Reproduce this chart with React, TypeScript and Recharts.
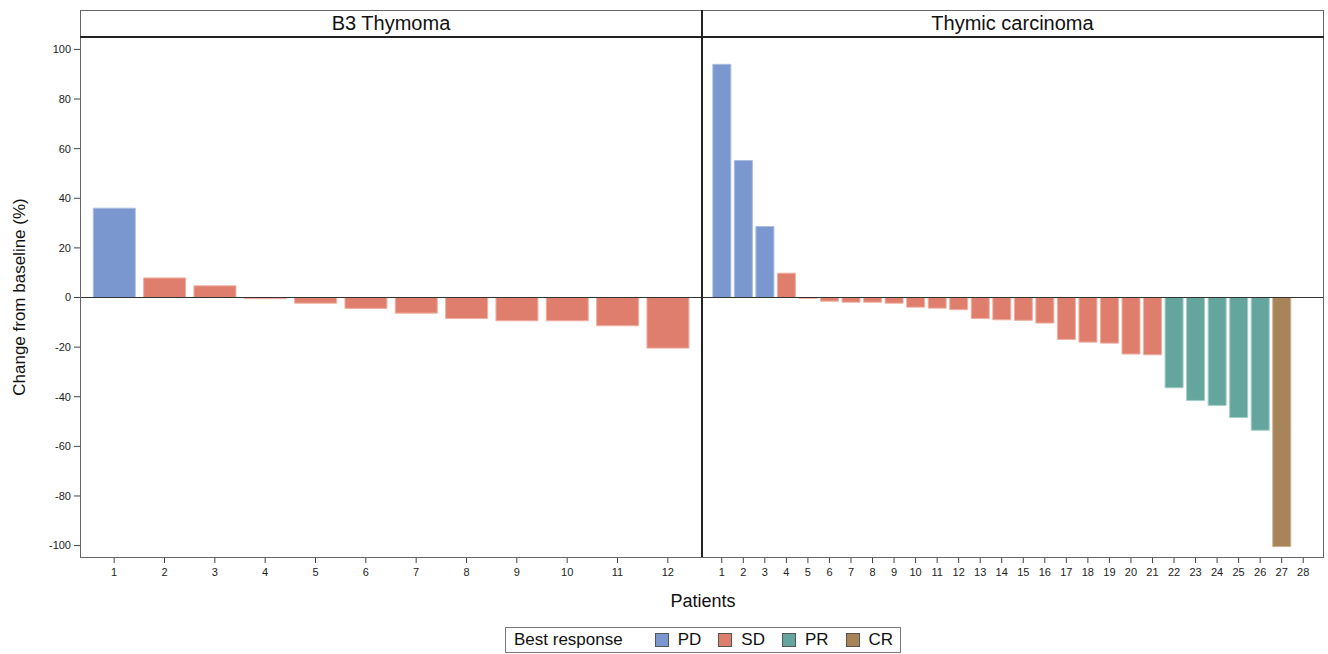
import React from 'react';
import {Bar, BarChart, Cell, ReferenceLine, XAxis, YAxis} from 'recharts';

const b3Patients = ['1', '2', '3', '4', '5', '6', '7', '8', '9', '10', '11', '12'];
const b3Values = [36, 7.9, 4.7, -0.5, -2.3, -4.4, -6.3, -8.5, -9.4, -9.4, -11.4, -20.4];
const b3Response = ['PD', 'SD', 'SD', 'SD', 'SD', 'SD', 'SD', 'SD', 'SD', 'SD', 'SD', 'SD'];

const tcPatients = [
    '1', '2', '3', '4', '5', '6', '7', '8', '9', '10', '11', '12', '13', '14',
    '15', '16', '17', '18', '19', '20', '21', '22', '23', '24', '25', '26', '27', '28',
];
const tcValues = [
    94, 55.2, 28.6, 9.8, -0.4, -1.5, -1.9, -1.9, -2.3, -3.9, -4.3, -4.9, -8.5, -9.0,
    -9.2, -10.3, -16.9, -18.0, -18.4, -22.8, -23.1, -36.4, -41.5, -43.5, -48.4, -53.5, -100.4, null,
];
const tcResponse = [
    'PD', 'PD', 'PD', 'SD', 'SD', 'SD', 'SD', 'SD', 'SD', 'SD', 'SD', 'SD', 'SD', 'SD',
    'SD', 'SD', 'SD', 'SD', 'SD', 'SD', 'SD', 'PR', 'PR', 'PR', 'PR', 'PR', 'CR', '',
];

const yTicks = [-100, -80, -60, -40, -20, 0, 20, 40, 60, 80, 100];
const responses = ['PD', 'SD', 'PR', 'CR'];

const fillOf: Record<string, string> = {PD: '#7b97d0', SD: '#e07e6e', PR: '#64a69e', CR: '#a8845a'};
const strokeOf: Record<string, string> = {PD: '#a9bce3', SD: '#f0b0a4', PR: '#a3cdc7', CR: '#cdb08c'};

const b3Data = b3Patients.map((p, i) => ({patient: p, value: b3Values[i], response: b3Response[i]}));
const tcData = tcPatients.map((p, i) => ({patient: p, value: tcValues[i], response: tcResponse[i]}));

const font = '"Liberation Sans", Arial, sans-serif';
const tickStyle = {fontSize: 11, fill: '#222', fontFamily: font};
const domain: [number, number] = [-104.6, 104.6];

const Panel = ({data, width, showY}: {data: typeof b3Data; width: number; showY: boolean}) => (
    <BarChart width={width} height={549} data={data} margin={{top: 0, right: 0, bottom: 0, left: 0}}
              barCategoryGap="8.5%">
        <XAxis dataKey="patient" interval={0} height={30} padding={{left: 9, right: 9}}
               tick={tickStyle} tickSize={6} tickMargin={5} axisLine={false} tickLine={{stroke: '#444'}}/>
        <YAxis domain={domain} ticks={yTicks} hide={!showY} width={80} interval={0}
               tick={tickStyle} tickSize={6} tickMargin={3} axisLine={false} tickLine={{stroke: '#444'}}/>
        <ReferenceLine y={0} stroke="#333" strokeWidth={1}/>
        <Bar dataKey="value" isAnimationActive={false}>
            {data.map((d, i) => (
                <Cell key={i} fill={fillOf[d.response] || 'none'} stroke={strokeOf[d.response] || 'none'}
                      strokeWidth={1}/>
            ))}
        </Bar>
    </BarChart>
);

const App: React.FC = () => {
    return (
        <div style={{position: 'absolute', left: 0, top: 0, width: 1328, height: 654, fontFamily: font, background: '#fff'}}>
            <div style={{position: 'absolute', left: 0, top: 38}}>
                <Panel data={b3Data} width={702} showY={true}/>
            </div>
            <div style={{position: 'absolute', left: 702, top: 38}}>
                <Panel data={tcData} width={621} showY={false}/>
            </div>
            {/* frame and panel headers */}
            <div style={{position: 'absolute', left: 80, top: 10, width: 1242, height: 546, border: '1px solid #666', pointerEvents: 'none'}}/>
            <div style={{position: 'absolute', left: 80, top: 36, width: 1244, height: 2, background: '#222'}}/>
            <div style={{position: 'absolute', left: 701, top: 10, width: 2, height: 547, background: '#222'}}/>
            <div style={{position: 'absolute', left: 80, top: 10, width: 622, height: 27, lineHeight: '27px', textAlign: 'center', fontSize: 20, color: '#111'}}>
                B3 Thymoma
            </div>
            <div style={{position: 'absolute', left: 702, top: 10, width: 621, height: 27, lineHeight: '27px', textAlign: 'center', fontSize: 20, color: '#111'}}>
                Thymic carcinoma
            </div>
            <div style={{position: 'absolute', left: 20 - 150, top: 297 - 10, width: 300, height: 20, lineHeight: '20px', textAlign: 'center', fontSize: 17, color: '#111', transform: 'rotate(-90deg)'}}>
                Change from baseline (%)
            </div>
            <div style={{position: 'absolute', left: 603, top: 591, width: 200, textAlign: 'center', fontSize: 18, color: '#111'}}>
                Patients
            </div>
            <div style={{position: 'absolute', left: 505, top: 627, width: 396, height: 26, border: '1px solid #777', display: 'flex', alignItems: 'center', fontSize: 17, color: '#111', boxSizing: 'border-box', whiteSpace: 'nowrap'}}>
                <span style={{marginLeft: 8, marginRight: 32, flexShrink: 0}}>Best response</span>
                {responses.map((r, i) => (
                    <span key={r} style={{display: 'flex', alignItems: 'center', marginRight: i < responses.length - 1 ? 17 : 0, flexShrink: 0}}>
                        <span style={{width: 12, height: 12, background: fillOf[r], border: '1px solid #555', marginRight: 9, display: 'inline-block'}}/>
                        {r}
                    </span>
                ))}
            </div>
        </div>
    );
};

export default App;
